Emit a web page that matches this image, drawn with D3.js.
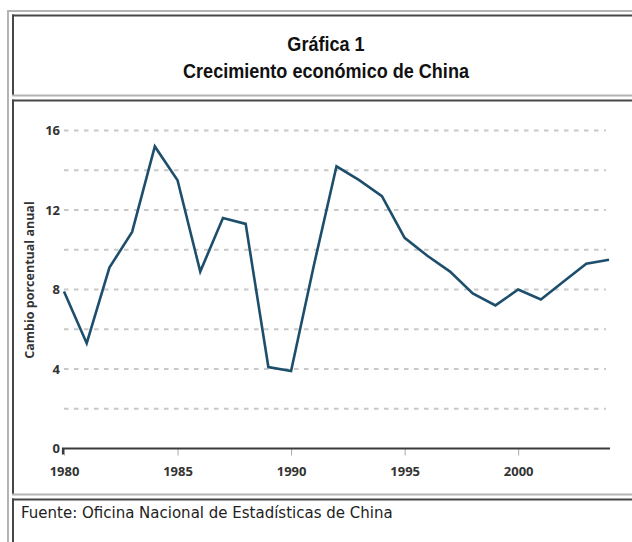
<!DOCTYPE html>
<html>
<head>
<meta charset="utf-8">
<script src="https://cdn.jsdelivr.net/npm/d3@7"></script>
<style>
  body { margin: 0; background: #fff; }
  svg { display: block; }
</style>
</head>
<body>
<svg width="632" height="542"></svg>
<script>
// Data
var years = [1980, 1981, 1982, 1983, 1984, 1985, 1986, 1987, 1988, 1989, 1990, 1991,
             1992, 1993, 1994, 1995, 1996, 1997, 1998, 1999, 2000, 2001, 2002, 2003, 2004];
var growth = [7.9, 5.3, 9.1, 10.9, 15.2, 13.5, 8.9, 11.6, 11.3, 4.1, 3.9, 9.2,
              14.2, 13.5, 12.7, 10.6, 9.7, 8.9, 7.8, 7.2, 8.0, 7.5, 8.4, 9.3, 9.5];
var xTicks = [1980, 1985, 1990, 1995, 2000];
var yTicks = [0, 4, 8, 12, 16];
var gridValues = [2, 4, 6, 8, 10, 12, 14, 16];

var titleLines = ["Gráfica 1", "Crecimiento económico de China"];
var yTitle = "Cambio porcentual anual";
var source = "Fuente: Oficina Nacional de Estadísticas de China";

var data = years.map(function(y, i) { return { year: y, value: growth[i] }; });

var svg = d3.select("svg");

// table-like frame
var light = "#b4b4b4", dark = "#474747";
// outer table border
svg.append("line").attr("x1", 8).attr("x2", 632).attr("y1", 11).attr("y2", 11)
    .attr("stroke", light).attr("stroke-width", 2);
svg.append("line").attr("x1", 8).attr("x2", 8).attr("y1", 10).attr("y2", 542)
    .attr("stroke", light).attr("stroke-width", 2);

// cells: [top, bottom]
var cells = [[15.5, 95.5], [100.5, 494.5], [499.5, 560]];
cells.forEach(function(c) {
  svg.append("line").attr("x1", 12).attr("x2", 632).attr("y1", c[0]).attr("y2", c[0])
      .attr("stroke", dark).attr("stroke-width", 2);
  svg.append("line").attr("x1", 13).attr("x2", 13).attr("y1", c[0] - 1).attr("y2", c[1])
      .attr("stroke", dark).attr("stroke-width", 2);
  svg.append("line").attr("x1", 12).attr("x2", 632).attr("y1", c[1]).attr("y2", c[1])
      .attr("stroke", light).attr("stroke-width", 2);
});

// title (condensed Arial-like)
svg.append("g")
    .attr("transform", "translate(326,0) scale(0.86,1)")
  .selectAll("text")
    .data(titleLines)
  .enter().append("text")
    .attr("x", 0)
    .attr("y", function(d, i) { return 51 + i * 27; })
    .attr("text-anchor", "middle")
    .style("font-family", "'Liberation Sans', Arial, sans-serif")
    .style("font-weight", "bold")
    .style("font-size", "21px")
    .style("fill", "#111")
    .text(function(d) { return d; });

// chart
var xScale = d3.scaleLinear().domain([1980, 2004]).range([64, 609]);
var yScale = d3.scaleLinear().domain([0, 16]).range([448.5, 130.5]);

var labelFont = "'Open Sans', 'DejaVu Sans', sans-serif";

// grid
svg.append("g").selectAll("line")
    .data(gridValues)
  .enter().append("line")
    .attr("x1", 64).attr("x2", 606)
    .attr("y1", function(d) { return yScale(d); })
    .attr("y2", function(d) { return yScale(d); })
    .attr("stroke", "#c8c8c8")
    .attr("stroke-width", 1.8)
    .attr("stroke-dasharray", "4.5,5.5");

// x axis
var xAxis = d3.axisBottom(xScale)
    .tickValues(xTicks)
    .tickFormat(d3.format("d"))
    .tickSize(7)
    .tickPadding(11);

var gx = svg.append("g")
    .attr("transform", "translate(0," + yScale(0) + ")")
    .call(xAxis);
gx.select(".domain").remove();
gx.selectAll(".tick line").attr("stroke", "#aaa");
gx.selectAll(".tick text")
    .style("font-family", labelFont)
    .style("font-weight", "bold")
    .style("font-size", "13px")
    .style("fill", "#333");
gx.append("path")
    .attr("d", "M" + (xScale(1980) - 1) + ",6V0H" + (xScale(2004) + 1))
    .attr("fill", "none")
    .attr("stroke", "#3a3a3a")
    .attr("stroke-width", 2.2);

// y axis labels
var yAxis = d3.axisLeft(yScale)
    .tickValues(yTicks)
    .tickSize(0)
    .tickPadding(2);
var gy = svg.append("g")
    .attr("transform", "translate(" + 62 + ",0)")
    .call(yAxis);
gy.select(".domain").remove();
gy.selectAll(".tick text")
    .style("font-family", labelFont)
    .style("font-weight", "bold")
    .style("font-size", "13px")
    .style("fill", "#333");

svg.append("text")
    .attr("transform", "translate(34,280) rotate(-90)")
    .attr("text-anchor", "middle")
    .style("font-family", labelFont)
    .style("font-weight", "bold")
    .style("font-size", "12.5px")
    .style("fill", "#333")
    .text(yTitle);

// the line
var line = d3.line()
    .x(function(d) { return xScale(d.year); })
    .y(function(d) { return yScale(d.value); });

svg.append("path")
    .datum(data)
    .attr("d", line)
    .attr("fill", "none")
    .attr("stroke", "#1d4e6c")
    .attr("stroke-width", 2.6)
    .attr("stroke-linejoin", "miter");

// source
svg.append("text")
    .attr("x", 21)
    .attr("y", 518)
    .style("font-family", "'DejaVu Sans', Verdana, sans-serif")
    .style("font-size", "15px")
    .style("fill", "#222")
    .text(source);
</script>
</body>
</html>
